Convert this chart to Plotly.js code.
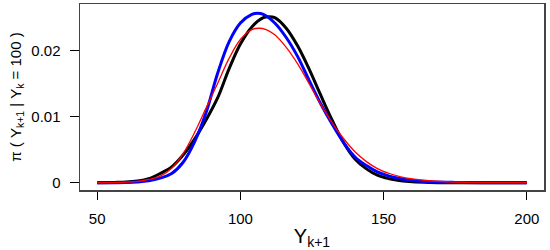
<!DOCTYPE html>
<html>
<head>
<meta charset="utf-8">
<script src="https://cdn.plot.ly/plotly-3.0.1.min.js"></script>
<style>html,body{margin:0;padding:0;background:#fff;}#chart{width:550px;height:250px;}</style>
</head>
<body>
<div id="chart"></div>
<script>
// Values
const blackX = [50, 56, 60, 64, 68, 72, 76, 80, 84, 88, 92, 96, 100, 104, 108, 110, 112, 116, 120, 124, 128, 132, 136, 140, 144, 148, 152, 156, 160, 166, 175, 200];
const blackY = [0, 0.00005, 0.0001, 0.00025, 0.0006, 0.0014, 0.0024, 0.0042, 0.0066, 0.0095, 0.0128, 0.0172, 0.0210, 0.0236, 0.0250, 0.02515, 0.0250, 0.0234, 0.0207, 0.0172, 0.0133, 0.0095, 0.0061, 0.0036, 0.0021, 0.0011, 0.0006, 0.0003, 0.00015, 0.00005, 0.00001, 0];

const blueX = [50, 56, 60, 64, 68, 72, 76, 80, 84, 88, 92, 96, 100, 104, 106, 108, 112, 116, 120, 124, 128, 132, 136, 140, 144, 148, 152, 156, 160, 166, 175, 185, 200];
const blueY = [0, 0.00001, 0.00003, 0.0001, 0.00028, 0.0007, 0.0014, 0.0031, 0.0062, 0.0106, 0.0165, 0.0213, 0.0242, 0.0255, 0.02567, 0.0255, 0.0242, 0.0220, 0.0191, 0.0155, 0.0120, 0.0089, 0.0061, 0.0039, 0.0026, 0.0016, 0.0010, 0.0006, 0.00035, 0.00015, 0.00005, 0.00001, 0];

const redX = [50, 56, 60, 64, 68, 72, 76, 80, 84, 88, 92, 96, 100, 104, 106.5, 109, 112, 116, 120, 124, 128, 132, 136, 140, 144, 148, 152, 156, 160, 166, 172, 180, 190, 200];
const redY = [0, 0.00003, 0.00008, 0.0002, 0.0005, 0.0010, 0.0022, 0.0044, 0.0076, 0.0113, 0.0150, 0.0188, 0.0217, 0.0232, 0.0234, 0.0232, 0.0224, 0.0205, 0.0180, 0.0150, 0.0119, 0.0091, 0.0067, 0.0047, 0.0032, 0.0021, 0.0014, 0.0009, 0.0006, 0.0003, 0.00015, 0.00005, 0.00001, 0];

const xTicks = [50, 100, 150, 200];
const yTicks = [0, 0.01, 0.02];
const yTickText = ['0', '0.01', '0.02'];

const traces = [
  {x: blackX, y: blackY, mode: 'lines', line: {color: '#000000', width: 3, shape: 'spline', smoothing: 1}, hoverinfo: 'skip'},
  {x: blueX, y: blueY, mode: 'lines', line: {color: '#0000ff', width: 3, shape: 'spline', smoothing: 1}, hoverinfo: 'skip'},
  {x: redX, y: redY, mode: 'lines', line: {color: '#ff0000', width: 1.3, shape: 'spline', smoothing: 1}, hoverinfo: 'skip'}
];

const layout = {
  width: 550, height: 250,
  margin: {l: 80, r: 6, t: 4, b: 60},
  paper_bgcolor: '#ffffff', plot_bgcolor: '#ffffff',
  showlegend: false,
  font: {family: '"Liberation Sans", Arial, sans-serif', color: '#000', size: 15},
  xaxis: {
    range: [44, 206], tickmode: 'array', tickvals: xTicks,
    ticks: 'outside', ticklen: 8, tickwidth: 1, tickcolor: '#000',
    showline: true, mirror: true, linecolor: '#444', linewidth: 1.5,
    showgrid: false, zeroline: false,
    ticklabelstandoff: 6,
    tickfont: {size: 15},
    title: {text: 'Y<sub>k+1</sub>', font: {size: 20}, standoff: 4}
  },
  yaxis: {
    range: [-0.0011, 0.02707], tickmode: 'array', tickvals: yTicks, ticktext: yTickText,
    ticks: 'outside', ticklen: 9, tickwidth: 1, tickcolor: '#000',
    showline: true, mirror: true, linecolor: '#444', linewidth: 1.5,
    showgrid: false, zeroline: false,
    ticklabelstandoff: 6,
    tickfont: {size: 15},
    title: {text: 'π ( Y<sub>k+1</sub> | Y<sub>k</sub> = 100 )', font: {size: 15}, standoff: 6}
  }
};

Plotly.newPlot('chart', traces, layout, {displayModeBar: false, staticPlot: true});
</script>
</body>
</html>
